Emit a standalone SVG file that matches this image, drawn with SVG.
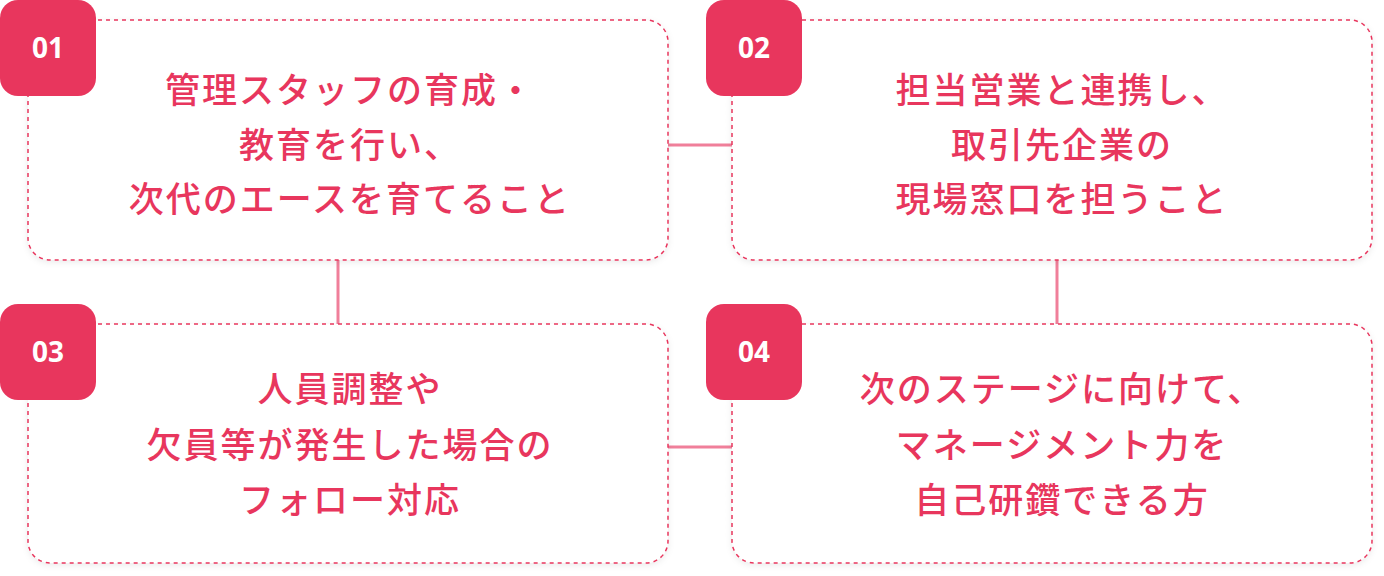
<svg xmlns="http://www.w3.org/2000/svg" width="1384" height="576" viewBox="0 0 1384 576">
<defs>
<style>
.box{fill:#fff;stroke:#e8365d;stroke-width:1.5;stroke-dasharray:4 4;filter:url(#sh)}
.badge{fill:#e8365d}
.num{fill:#fff;font-family:"Open Sans","Noto Sans",sans-serif;font-weight:700;font-size:28px;text-anchor:middle}
.t{fill:#e8365d;font-family:"Noto Sans CJK JP",sans-serif;font-weight:500;font-size:35px;text-anchor:middle;letter-spacing:2px}
.c{stroke:#f07f9a;stroke-width:3;fill:none}
</style>
<filter id="sh" x="-5%" y="-5%" width="110%" height="115%"><feDropShadow dx="0" dy="2" stdDeviation="3" flood-color="#000" flood-opacity="0.08"/></filter>
</defs>
<rect width="1384" height="576" fill="#fff"/>
<g id="connectors">
<line class="c" x1="668" y1="145" x2="732" y2="145"/>
<line class="c" x1="338" y1="260" x2="338" y2="324"/>
<line class="c" x1="1057" y1="260" x2="1057" y2="324"/>
<line class="c" x1="668" y1="447" x2="732" y2="447"/>
</g>
<g id="node1">
<rect class="box" x="28" y="20" width="640" height="240" rx="22"/>
<rect class="badge" x="0" y="0" width="96" height="96" rx="18"/>
<text class="num" x="48" y="58">01</text>
<text class="t" x="350" y="103">管理スタッフの育成・</text>
<text class="t" x="350" y="158">教育を行い、</text>
<text class="t" x="350" y="212">次代のエースを育てること</text>
</g>
<g id="node2">
<rect class="box" x="732" y="20" width="640" height="240" rx="22"/>
<rect class="badge" x="706" y="0" width="96" height="96" rx="18"/>
<text class="num" x="754" y="58">02</text>
<text class="t" x="1062" y="103">担当営業と連携し、</text>
<text class="t" x="1062" y="158">取引先企業の</text>
<text class="t" x="1062" y="212">現場窓口を担うこと</text>
</g>
<g id="node3">
<rect class="box" x="28" y="324" width="640" height="239" rx="22"/>
<rect class="badge" x="0" y="304" width="96" height="96" rx="18"/>
<text class="num" x="48" y="362">03</text>
<text class="t" x="350" y="402">人員調整や</text>
<text class="t" x="350" y="458">欠員等が発生した場合の</text>
<text class="t" x="350" y="513">フォロー対応</text>
</g>
<g id="node4">
<rect class="box" x="732" y="324" width="640" height="239" rx="22"/>
<rect class="badge" x="706" y="304" width="96" height="96" rx="18"/>
<text class="num" x="754" y="362">04</text>
<text class="t" x="1062" y="402">次のステージに向けて、</text>
<text class="t" x="1062" y="458">マネージメント力を</text>
<text class="t" x="1062" y="513">自己研鑽できる方</text>
</g>
</svg>
